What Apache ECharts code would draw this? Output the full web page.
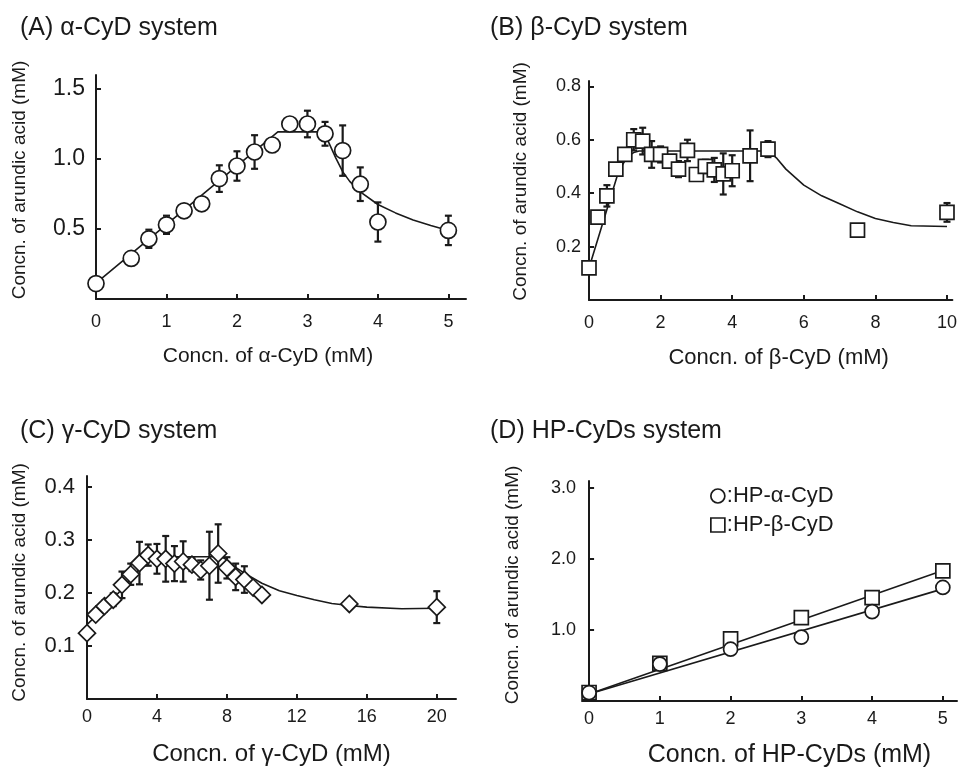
<!DOCTYPE html>
<html>
<head>
<meta charset="utf-8">
<script src="https://cdn.jsdelivr.net/npm/echarts@6/dist/echarts.min.js"></script>
<style>
html, body { margin: 0; padding: 0; background: #fff; }
#charts { width: 960px; height: 769px; }
</style>
</head>
<body>
<div id="charts"></div>
<script>
// (A) alpha-CyD
var alphaX = [0, 0.5, 0.75, 1, 1.25, 1.5, 1.75, 2, 2.25, 2.5, 2.75, 3, 3.25, 3.5, 3.75, 4, 5];
var alphaY = [0.11, 0.29, 0.43, 0.53, 0.63, 0.68, 0.86, 0.95, 1.05, 1.10, 1.25, 1.25, 1.18, 1.06, 0.82, 0.55, 0.49];
var alphaErr = [0, 0, 0.065, 0.065, 0.045, 0, 0.095, 0.105, 0.12, 0.05, 0, 0.095, 0.085, 0.18, 0.12, 0.14, 0.105];
var alphaFitX = [0, 2.58, 3.2, 3.25, 3.3, 3.4, 3.5, 3.6, 3.75, 4, 4.25, 4.5, 4.75, 5];
var alphaFitY = [0.113, 1.194, 1.194, 1.17, 1.12, 1.01, 0.91, 0.84, 0.765, 0.675, 0.615, 0.565, 0.525, 0.49];

// (B) beta-CyD
var betaX = [0, 0.25, 0.5, 0.75, 1, 1.25, 1.5, 1.75, 2, 2.25, 2.5, 2.75, 3, 3.25, 3.5, 3.75, 4, 4.5, 5, 7.5, 10];
var betaY = [0.12, 0.31, 0.39, 0.49, 0.545, 0.60, 0.595, 0.545, 0.545, 0.52, 0.49, 0.56, 0.47, 0.50, 0.487, 0.472, 0.484, 0.54, 0.565, 0.262, 0.328];
var betaErr = [0, 0, 0.04, 0, 0, 0.04, 0.05, 0.05, 0.03, 0.02, 0.03, 0.04, 0, 0.025, 0.045, 0.077, 0.058, 0.095, 0.03, 0, 0.035];
var betaFitX = [0, 0.8, 0.95, 1.1, 1.25, 1.4, 5.0, 5.25, 5.5, 6, 6.5, 7, 7.5, 8, 8.5, 9, 10];
var betaFitY = [0.12, 0.47, 0.51, 0.54, 0.552, 0.558, 0.558, 0.53, 0.49, 0.43, 0.39, 0.36, 0.33, 0.305, 0.29, 0.278, 0.275];

// (C) gamma-CyD
var gammaX = [0, 0.5, 1, 1.5, 2, 2.5, 3, 3.5, 4, 4.5, 5, 5.5, 6, 6.5, 7, 7.5, 8, 8.5, 9, 9.5, 10, 15, 20];
var gammaY = [0.124, 0.159, 0.175, 0.187, 0.215, 0.235, 0.256, 0.271, 0.264, 0.264, 0.255, 0.259, 0.253, 0.243, 0.251, 0.274, 0.247, 0.23, 0.225, 0.21, 0.196, 0.179, 0.173];
var gammaErr = [0, 0, 0.01, 0.012, 0.025, 0.02, 0.04, 0.02, 0.028, 0.043, 0.033, 0.038, 0.012, 0.018, 0.064, 0.055, 0.02, 0.025, 0.025, 0, 0, 0, 0.03];
var gammaFitX = [0, 1, 2, 3, 3.5, 3.8, 7.7, 8, 8.5, 9, 10, 11, 12, 13, 14, 15, 16, 18, 20];
var gammaFitY = [0.14, 0.172, 0.207, 0.245, 0.262, 0.268, 0.268, 0.262, 0.248, 0.237, 0.218, 0.204, 0.195, 0.187, 0.18, 0.176, 0.173, 0.17, 0.171];

// (D) HP-CyDs
var hpX = [0, 1, 2, 3, 4, 5];
var hpAlphaY = [0.117, 0.52, 0.73, 0.90, 1.26, 1.60];
var hpBetaY = [0.12, 0.53, 0.875, 1.175, 1.457, 1.834];
var hpFitX = [0, 5];
var hpAlphaFitY = [0.1, 1.58];
var hpBetaFitY = [0.1, 1.84];

var FONT = 'Liberation Sans';
var INK = '#1a1a1a';

function pairs(xs, ys) {
    var out = [];
    for (var i = 0; i < xs.length; i++) out.push([xs[i], ys[i]]);
    return out;
}

function errData(xs, ys, es) {
    var out = [];
    for (var i = 0; i < xs.length; i++) {
        if (es[i] > 0) out.push([xs[i], ys[i] - es[i], ys[i] + es[i]]);
    }
    return out;
}

function renderErr(params, api) {
    var lo = api.coord([api.value(0), api.value(1)]);
    var hi = api.coord([api.value(0), api.value(2)]);
    var w = 3.5;
    var st = { stroke: INK, lineWidth: 2.2 };
    return {
        type: 'group',
        children: [
            { type: 'line', shape: { x1: lo[0], y1: lo[1], x2: hi[0], y2: hi[1] }, style: st },
            { type: 'line', shape: { x1: lo[0] - w, y1: lo[1], x2: lo[0] + w, y2: lo[1] }, style: st },
            { type: 'line', shape: { x1: hi[0] - w, y1: hi[1], x2: hi[0] + w, y2: hi[1] }, style: st }
        ]
    };
}

// shift > 0 moves the axis name forward along its text (right on x, up on y)
function axis(gridIndex, min, max, tickVals, labelVals, digits, labelSize, labelMargin, name, nameSize, nameGap, isY, shift) {
    var pad = [0, 0, 0, 0];
    if (shift > 0) pad[3] = 2 * shift;
    if (shift < 0) pad[1] = -2 * shift;
    return {
        type: 'value',
        gridIndex: gridIndex,
        min: min,
        max: max,
        name: name,
        nameLocation: 'middle',
        nameGap: nameGap,
        nameRotate: isY ? 90 : 0,
        nameTextStyle: { fontFamily: FONT, fontSize: nameSize, color: INK, padding: pad },
        axisLine: { show: true, onZero: true, lineStyle: { color: INK, width: 2 } },
        axisTick: { show: true, inside: true, length: 5, customValues: tickVals, lineStyle: { color: INK, width: 2 } },
        axisLabel: {
            customValues: labelVals,
            margin: labelMargin,
            fontFamily: FONT,
            fontSize: labelSize,
            color: INK,
            formatter: function (v) { return v.toFixed(digits); }
        },
        splitLine: { show: false }
    };
}

function fitLine(name, xi, xs, ys) {
    return {
        name: name, type: 'line', xAxisIndex: xi, yAxisIndex: xi, z: 1,
        data: pairs(xs, ys), showSymbol: false, symbol: 'none', silent: true,
        lineStyle: { color: INK, width: 1.6 }
    };
}

function errSeries(xi, xs, ys, es) {
    return {
        type: 'custom', xAxisIndex: xi, yAxisIndex: xi, z: 2, silent: true,
        renderItem: renderErr, encode: { x: 0, y: [1, 2] },
        data: errData(xs, ys, es)
    };
}

function points(name, xi, xs, ys, symbol, size) {
    return {
        name: name, type: 'scatter', xAxisIndex: xi, yAxisIndex: xi, z: 3,
        symbol: symbol, symbolSize: size,
        itemStyle: { color: '#fff', borderColor: INK, borderWidth: 1.7, opacity: 1 },
        data: pairs(xs, ys)
    };
}

function title(text, left, top) {
    return {
        text: text, left: left, top: top, padding: 0,
        textStyle: { fontFamily: FONT, fontSize: 25, fontWeight: 'normal', color: INK }
    };
}

var yName = 'Concn. of arundic acid (mM)';

var option = {
    animation: false,
    backgroundColor: '#fff',
    title: [
        title('(A) α-CyD system', 20, 16),
        title('(B) β-CyD system', 490, 16),
        title('(C) γ-CyD system', 20, 419),
        title('(D) HP-CyDs system', 490, 419)
    ],
    grid: [
        { left: 96, top: 75, width: 370, height: 224 },
        { left: 589, top: 81, width: 370, height: 219 },
        { left: 87, top: 476, width: 369, height: 223 },
        { left: 582, top: 481, width: 375, height: 220 }
    ],
    xAxis: [
        axis(0, 0, 5.25, [1, 2, 3, 4, 5], [0, 1, 2, 3, 4, 5], 0, 18, 14, 'Concn. of α-CyD (mM)', 21, 47, false, -13),
        axis(1, 0, 10.15, [2, 4, 6, 8, 10], [0, 2, 4, 6, 8, 10], 0, 18, 14, 'Concn. of β-CyD (mM)', 22, 47, false, 8),
        axis(2, 0, 21.1, [4, 8, 12, 16, 20], [0, 4, 8, 12, 16, 20], 0, 18, 9, 'Concn. of γ-CyD (mM)', 24, 43, false, 0),
        axis(3, -0.1, 5.2, [1, 2, 3, 4, 5], [0, 1, 2, 3, 4, 5], 0, 18, 9, 'Concn. of HP-CyDs (mM)', 25, 42, false, 20)
    ],
    yAxis: [
        axis(0, 0, 1.6, [0.5, 1, 1.5], [0.5, 1, 1.5], 1, 23, 11, yName, 19, 67, true, 7),
        axis(1, 0, 0.82, [0.2, 0.4, 0.6, 0.8], [0.2, 0.4, 0.6, 0.8], 1, 18, 8, yName, 19, 59, true, 9),
        axis(2, 0, 0.42, [0.1, 0.2, 0.3, 0.4], [0.1, 0.2, 0.3, 0.4], 1, 22, 12, yName, 19, 58, true, 5),
        axis(3, 0, 3.1, [1, 2, 3], [1, 2, 3], 1, 18, 6, yName, 19, 60, true, 6)
    ],
    legend: {
        orient: 'vertical',
        left: 710,
        top: 485,
        itemWidth: 14,
        itemHeight: 14,
        itemGap: 7,
        padding: 0,
        selectedMode: false,
        formatter: ':{name}',
        itemStyle: { color: '#fff', borderColor: INK, borderWidth: 1.7 },
        textStyle: { fontFamily: FONT, fontSize: 22, color: INK, lineHeight: 20, padding: [0, 0, 0, -3] },
        data: [{ name: 'HP-α-CyD', icon: 'circle' }, { name: 'HP-β-CyD', icon: 'rect' }]
    },
    series: [
        fitLine('fitA', 0, alphaFitX, alphaFitY),
        errSeries(0, alphaX, alphaY, alphaErr),
        points('α-CyD', 0, alphaX, alphaY, 'circle', 16),

        fitLine('fitB', 1, betaFitX, betaFitY),
        errSeries(1, betaX, betaY, betaErr),
        points('β-CyD', 1, betaX, betaY, 'rect', 14),

        fitLine('fitC', 2, gammaFitX, gammaFitY),
        errSeries(2, gammaX, gammaY, gammaErr),
        points('γ-CyD', 2, gammaX, gammaY, 'diamond', 17),

        fitLine('fitDa', 3, hpFitX, hpAlphaFitY),
        fitLine('fitDb', 3, hpFitX, hpBetaFitY),
        points('HP-β-CyD', 3, hpX, hpBetaY, 'rect', 14),
        points('HP-α-CyD', 3, hpX, hpAlphaY, 'circle', 14)
    ]
};

var charts = echarts.init(document.getElementById('charts'));
charts.setOption(option);
</script>
</body>
</html>
